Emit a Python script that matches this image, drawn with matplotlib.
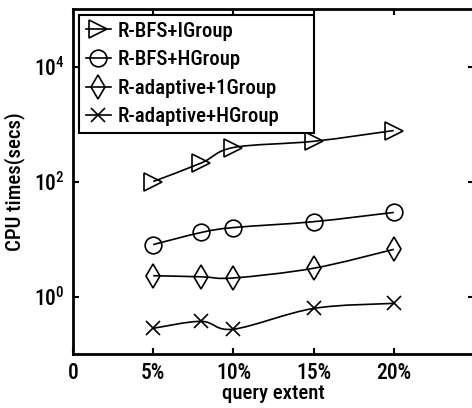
import numpy as np
import matplotlib
matplotlib.use("Agg")
import matplotlib.pyplot as plt
from matplotlib.path import Path
from matplotlib.patches import PathPatch
from matplotlib.lines import Line2D

plt.rcParams['font.family'] = ['Liberation Sans Narrow', 'Roboto Condensed',
                               'Archivo Narrow', 'DejaVu Sans']
plt.rcParams['font.weight'] = 'medium'
plt.rcParams['axes.labelweight'] = 'medium'
plt.rcParams['mathtext.default'] = 'regular'

# query extent (%) and CPU time (secs) per method
extent = [5, 8, 10, 15, 20]
bfs_igroup = [100, 210, 390, 500, 770]
bfs_hgroup = [8.0, 13.0, 15.8, 20.0, 29.0]
adaptive_1group = [2.3, 2.2, 2.1, 3.1, 6.6]
adaptive_hgroup = [0.28, 0.37, 0.27, 0.62, 0.76]

labels = ['R-BFS+IGroup', 'R-BFS+HGroup', 'R-adaptive+1Group', 'R-adaptive+HGroup']
markers = ['>', 'o', 'd', 'x']
msizes = [13, 12, 12.7, 9.5]

xticks = [0, 5, 10, 15, 20]
xticklabels = ['0', '5%', '10%', '15%', '20%']
yticks = [1e0, 1e2, 1e4]
yticklabels = ['10$^{0}$', '10$^{2}$', '10$^{4}$']


def smooth_path(xs, ys):
    """Catmull-Rom curve through the points, built in (x, log y) space."""
    x = np.asarray(xs, float)
    ly = np.log10(np.asarray(ys, float))
    n = len(x)
    verts = [(x[0], 10 ** ly[0])]
    codes = [Path.MOVETO]
    for i in range(n - 1):
        p0 = (x[i - 1], ly[i - 1]) if i > 0 else (x[i], ly[i])
        p1 = (x[i], ly[i])
        p2 = (x[i + 1], ly[i + 1])
        p3 = (x[i + 2], ly[i + 2]) if i + 2 < n else p2
        c1 = (p1[0] + (p2[0] - p0[0]) / 6, p1[1] + (p2[1] - p0[1]) / 6)
        c2 = (p2[0] - (p3[0] - p1[0]) / 6, p2[1] - (p3[1] - p1[1]) / 6)
        for c in (c1, c2, p2):
            verts.append((c[0], 10 ** c[1]))
            codes.append(Path.CURVE4)
    return Path(verts, codes)


fig = plt.figure(figsize=(4.72, 4.08), dpi=100)
ax = fig.add_axes([73 / 472, 1 - 354 / 408, 401 / 472, 345 / 408])
ax.set_yscale('log')
ax.set_xlim(0, 25)
ax.set_ylim(0.1, 1e5)

series = [bfs_igroup, bfs_hgroup, adaptive_1group, adaptive_hgroup]
handles = []
for vals, m, ms, lab in zip(series, markers, msizes, labels):
    ax.add_patch(PathPatch(smooth_path(extent, vals), fill=False,
                           edgecolor='black', lw=1.2))
    ax.plot(extent, vals, linestyle='none', marker=m, markersize=ms,
            markerfacecolor='none', markeredgecolor='black', markeredgewidth=1.2)
    handles.append(Line2D([], [], color='black', lw=1.2, marker=m, markersize=ms,
                          markerfacecolor='none', markeredgecolor='black',
                          markeredgewidth=1.2, label=lab))

ax.set_xticks(xticks)
ax.set_xticklabels(xticklabels, fontsize=15.5)
ax.set_yticks(yticks)
ax.set_yticklabels(yticklabels, fontsize=15.5)
ax.yaxis.set_minor_locator(matplotlib.ticker.NullLocator())
ax.tick_params(axis='both', which='major', direction='in', length=4, width=1.5,
               top=True, right=True, pad=6)
ax.tick_params(axis='x', pad=6)

for s in ax.spines.values():
    s.set_linewidth(2)

ax.set_xlabel('query extent', fontsize=15, labelpad=0)
ax.set_ylabel('CPU times(secs)', fontsize=15, labelpad=6)

leg = ax.legend(handles=handles, loc='upper left',
                bbox_to_anchor=(0.015, 0.5, 0.586, 0.483), mode='expand',
                borderaxespad=0, fontsize=15, frameon=True, fancybox=False,
                handlelength=1.2, handletextpad=0.3, labelspacing=0.46,
                borderpad=0.33, edgecolor='black', framealpha=1)
leg.get_frame().set_linewidth(1.5)

fig.savefig('out.png', dpi=100)
